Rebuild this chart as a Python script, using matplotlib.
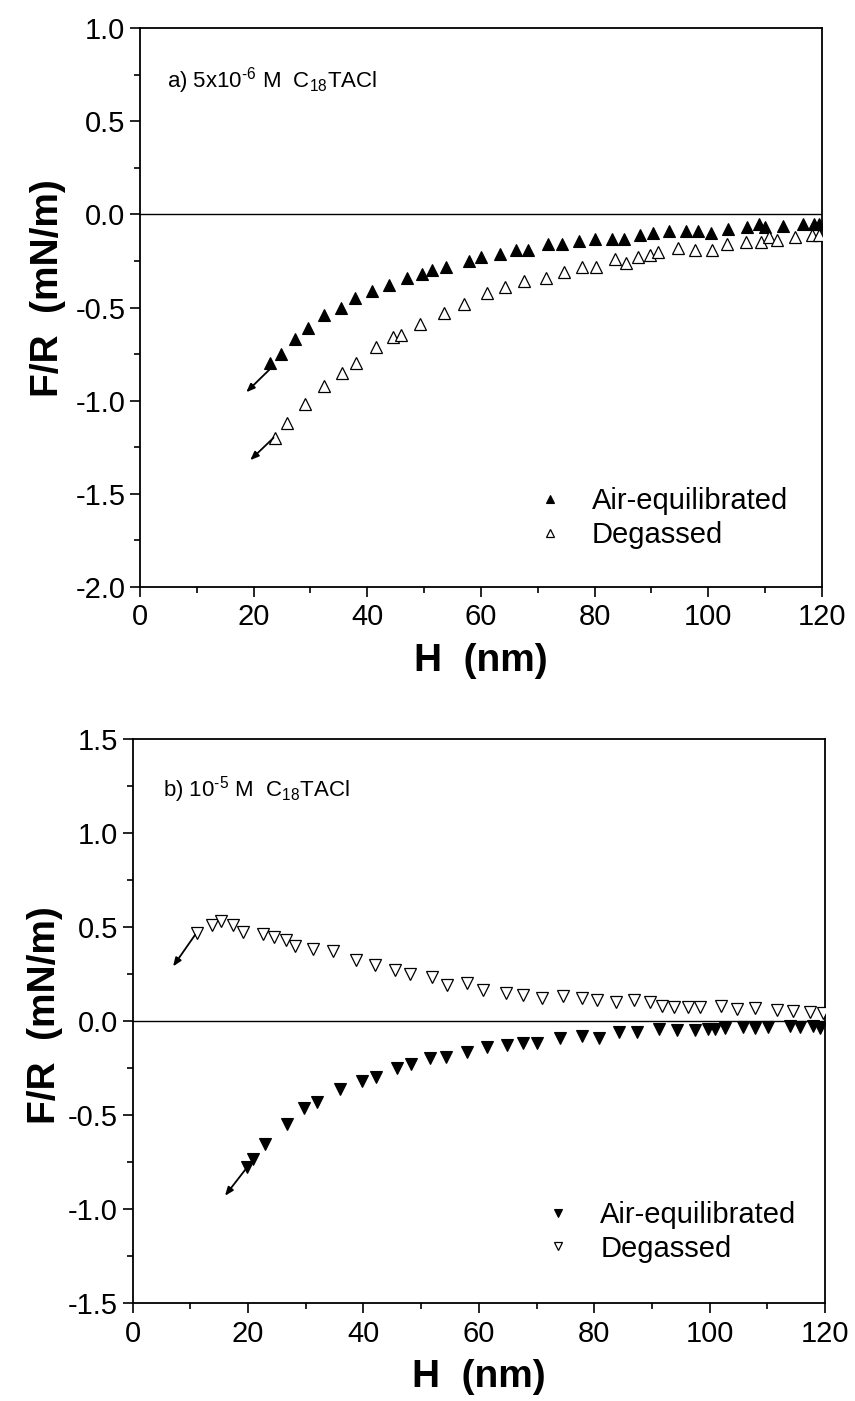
import matplotlib
matplotlib.use("Agg")
import matplotlib.pyplot as plt
from matplotlib.ticker import MultipleLocator, FormatStrFormatter

plt.rcParams["font.family"] = ["Liberation Sans", "DejaVu Sans"]
plt.rcParams["mathtext.default"] = "regular"

# panel a) 5x10^-6 M C18TACl
a_air_h = [22.9, 24.8, 27.3, 29.6, 32.4, 35.4, 37.9, 40.9, 43.9, 46.9, 49.6, 51.3,
           53.8, 57.9, 60.0, 63.3, 66.2, 68.3, 71.8, 74.2, 77.3, 80.1, 83.1, 85.2,
           88.0, 90.3, 93.0, 96.0, 98.2, 100.5, 103.5, 106.8, 109.0, 110.0, 113.1,
           116.7, 118.6, 119.5]
a_air_f = [-0.80, -0.75, -0.67, -0.61, -0.54, -0.50, -0.45, -0.41, -0.38, -0.34, -0.32,
           -0.30, -0.28, -0.25, -0.23, -0.21, -0.19, -0.19, -0.16, -0.16, -0.14, -0.13,
           -0.13, -0.13, -0.11, -0.10, -0.09, -0.09, -0.09, -0.10, -0.08, -0.07, -0.05,
           -0.07, -0.06, -0.05, -0.05, -0.05]
a_deg_h = [23.8, 25.8, 29.0, 32.3, 35.5, 38.0, 41.6, 44.6, 46.0, 49.3, 53.5, 57.0,
           61.0, 64.2, 67.5, 71.4, 74.6, 77.7, 80.2, 83.5, 85.5, 87.7, 89.7, 91.1,
           94.6, 97.7, 100.7, 103.2, 106.6, 109.3, 110.6, 112.0, 115.3, 118.2, 119.4]
a_deg_f = [-1.20, -1.12, -1.02, -0.92, -0.85, -0.80, -0.71, -0.66, -0.645, -0.59, -0.53,
           -0.48, -0.42, -0.39, -0.36, -0.34, -0.31, -0.28, -0.28, -0.24, -0.26, -0.23,
           -0.22, -0.20, -0.18, -0.19, -0.19, -0.16, -0.15, -0.15, -0.12, -0.135, -0.12,
           -0.11, -0.11]
# jump-in arrows: (tail, head)
a_arrows = [((22.9, -0.83), (18.7, -0.955)), ((23.5, -1.20), (19.4, -1.32))]

# panel b) 10^-5 M C18TACl
b_air_h = [19.8, 20.9, 23.0, 26.8, 29.7, 31.9, 35.9, 39.8, 42.1, 45.9, 48.2, 51.6,
           54.3, 57.9, 61.5, 64.8, 67.7, 70.1, 74.1, 77.8, 80.8, 84.3, 87.4, 91.3,
           94.4, 97.5, 99.8, 100.9, 102.7, 105.8, 107.9, 110.2, 113.9, 115.7, 117.9,
           119.2]
b_air_f = [-0.775, -0.735, -0.656, -0.548, -0.465, -0.43, -0.36, -0.32, -0.30, -0.25,
           -0.23, -0.195, -0.19, -0.167, -0.137, -0.13, -0.12, -0.12, -0.092, -0.08,
           -0.092, -0.06, -0.057, -0.044, -0.048, -0.05, -0.043, -0.043, -0.04, -0.034,
           -0.04, -0.03, -0.027, -0.03, -0.027, -0.04]
b_deg_h = [11.2, 13.7, 15.3, 17.4, 19.2, 22.5, 24.5, 26.6, 28.2, 31.3, 34.8, 38.7,
           42.0, 45.5, 48.1, 51.8, 54.5, 57.9, 60.7, 64.7, 67.7, 70.9, 74.6, 77.8,
           80.4, 83.7, 86.9, 89.7, 91.8, 93.8, 96.3, 98.3, 102.0, 104.8, 107.9, 111.6,
           114.5, 117.4, 119.7]
b_deg_f = [0.47, 0.51, 0.53, 0.51, 0.475, 0.46, 0.445, 0.43, 0.40, 0.385, 0.37, 0.325,
           0.30, 0.27, 0.25, 0.235, 0.19, 0.20, 0.165, 0.15, 0.14, 0.12, 0.135, 0.12,
           0.11, 0.10, 0.11, 0.10, 0.08, 0.076, 0.073, 0.076, 0.08, 0.064, 0.068, 0.058,
           0.053, 0.05, 0.04]
b_arrows = [((19.8, -0.78), (16.0, -0.93)), ((10.8, 0.457), (7.0, 0.29))]

panels = [
    dict(rect=[0.1637, 0.5812, 0.7977, 0.3986], ylim=(-2.0, 1.0),
         air=(a_air_h, a_air_f), deg=(a_deg_h, a_deg_f), mk="^",
         arrows=a_arrows, label="a) 5x10$^{\u20106}$ M  C$_{18}$TACl", lpos=(4.7, 0.72),
         legloc=(0.53, 0.02), ylab=(-0.1085, 0.535)),
    dict(rect=[0.1552, 0.0700, 0.8097, 0.4026], ylim=(-1.5, 1.5),
         air=(b_air_h, b_air_f), deg=(b_deg_h, b_deg_f), mk="v",
         arrows=b_arrows, label="b) 10$^{\u20105}$ M  C$_{18}$TACl", lpos=(5.2, 1.23),
         legloc=(0.545, 0.025), ylab=(-0.1007, 0.51)),
]

fig = plt.figure(figsize=(8.55, 14.01), dpi=100)

for p in panels:
    ax = fig.add_axes(p["rect"])
    ax.axhline(0, color="k", lw=1.0, zorder=1)
    ax.plot(*p["air"], ls="none", marker=p["mk"], ms=9, mfc="k", mec="k",
            mew=0.8, label="Air-equilibrated", zorder=3)
    ax.plot(*p["deg"], ls="none", marker=p["mk"], ms=9, mfc="white", mec="k",
            mew=0.9, label="Degassed", zorder=3)
    for tail, head in p["arrows"]:
        ax.annotate("", xy=head, xytext=tail,
                    arrowprops=dict(arrowstyle="-|>,head_length=0.5,head_width=0.2",
                                    color="k", lw=1.3, shrinkA=0, shrinkB=0))
    ax.text(*p["lpos"], p["label"], fontsize=16, va="center", ha="left")

    ax.set_xlim(0, 120)
    ax.set_ylim(*p["ylim"])
    ax.xaxis.set_major_locator(MultipleLocator(20))
    ax.xaxis.set_minor_locator(MultipleLocator(10))
    ax.yaxis.set_major_locator(MultipleLocator(0.5))
    ax.yaxis.set_minor_locator(MultipleLocator(0.25))
    ax.yaxis.set_major_formatter(FormatStrFormatter("%.1f"))
    ax.tick_params(which="both", direction="out", top=False, right=False,
                   width=1.2, labelsize=21)
    ax.tick_params(which="major", length=7)
    ax.tick_params(which="minor", length=4)
    ax.tick_params(axis="x", which="major", pad=5)
    for s in ax.spines.values():
        s.set_linewidth(1.3)

    ax.set_xlabel("H  (nm)", fontsize=28, fontweight="bold", labelpad=8)
    ax.set_ylabel("F/R  (mN/m)", fontsize=28, fontweight="bold")
    ax.yaxis.set_label_coords(*p["ylab"])

    ax.legend(loc="lower left", bbox_to_anchor=p["legloc"], frameon=False,
              fontsize=21, markerscale=0.65, handletextpad=0.7,
              labelspacing=0.2, handlelength=1.5)

fig.savefig("out.png", dpi=100)
